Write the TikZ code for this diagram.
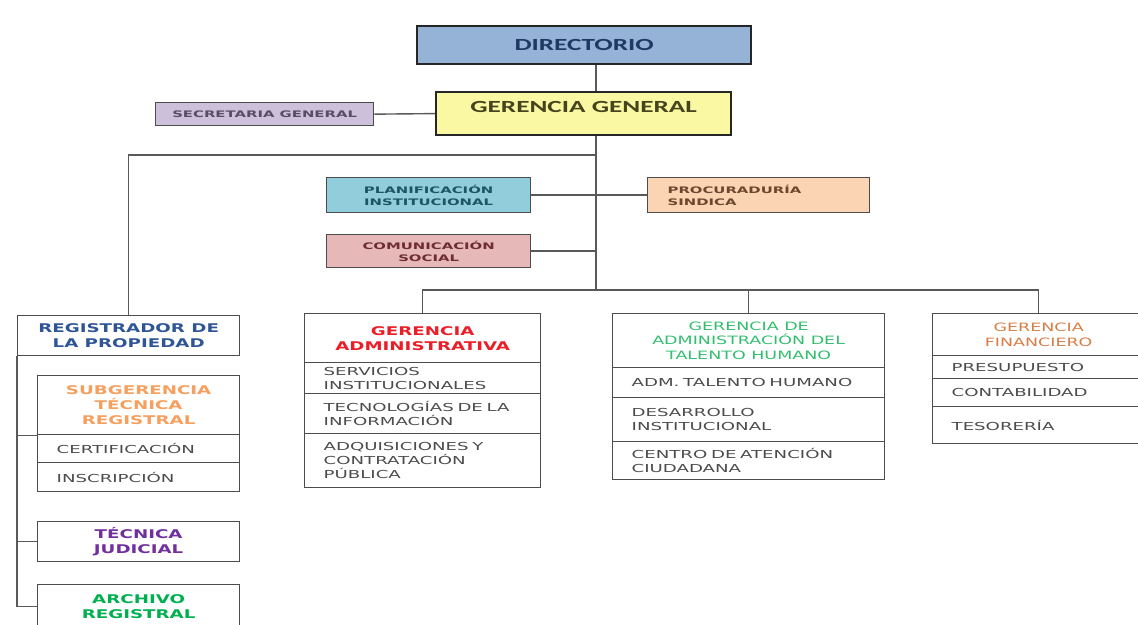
\documentclass[tikz,border=0pt]{standalone}
\usepackage{fontspec}
\setmainfont{Carlito}
\newfontfamily\capfont[FakeStretch=1.6]{Carlito}
\newfontfamily\headfont[FakeStretch=1.52]{DejaVu Sans}
\newfontfamily\rowfont[FakeStretch=1.65]{DejaVu Sans}
\usetikzlibrary{positioning}

\definecolor{dirblue}{RGB}{149,179,215}
\definecolor{dirtext}{RGB}{31,56,100}
\definecolor{ggyellow}{RGB}{250,248,162}
\definecolor{ggtext}{RGB}{70,68,30}
\definecolor{seclav}{RGB}{204,192,218}
\definecolor{sectext}{RGB}{90,75,105}
\definecolor{planblue}{RGB}{146,205,220}
\definecolor{plantext}{RGB}{30,85,100}
\definecolor{procpeach}{RGB}{251,212,180}
\definecolor{proctext}{RGB}{110,70,45}
\definecolor{compink}{RGB}{230,185,184}
\definecolor{comtext}{RGB}{110,45,50}
\definecolor{regblue}{RGB}{47,85,151}
\definecolor{suborange}{RGB}{245,160,95}
\definecolor{judpurple}{RGB}{112,48,160}
\definecolor{arcgreen}{RGB}{0,176,80}
\definecolor{admred}{RGB}{235,30,40}
\definecolor{talgreen}{RGB}{50,190,110}
\definecolor{finorange}{RGB}{215,125,70}

\begin{document}
\begin{tikzpicture}
  [x=1pt,y=-1pt,
   every node/.style={draw=black!70,line width=1.3pt,inner sep=0pt,anchor=north west,align=center},
   topbox/.style={draw=black!85,line width=2.2pt,font=\capfont\bfseries\fontsize{17}{20}\selectfont},
   smallbox/.style={font=\rowfont\bfseries\fontsize{9}{12}\selectfont},
   headbox/.style={font=\headfont\bfseries\fontsize{12}{15}\selectfont},
   rowbox/.style={align=left,inner xsep=19pt,text=black!70,font=\rowfont\fontsize{11}{14}\selectfont},
   link/.style={draw=black!65,line width=1.4pt},
   hv/.style={to path={-| (\tikztotarget)}},
   vh/.style={to path={|- (\tikztotarget)}}]
  \clip (0,0) rectangle (1138,624);

  % top of the chart
  \node[topbox,fill=dirblue,text=dirtext,minimum width=334pt,minimum height=38pt] (dir) at (416,25) {DIRECTORIO};
  \node[topbox,fill=ggyellow,text=ggtext,minimum width=295pt,minimum height=43pt,text depth=14pt] (gg) at (435,91) {GERENCIA GENERAL};
  \node[smallbox,fill=seclav,text=sectext,minimum width=218pt,minimum height=23pt] (sec) at (155,102) {SECRETARIA GENERAL};

  % staff units
  \node[smallbox,fill=planblue,text=plantext,minimum width=204pt,minimum height=35pt] (plan) at (326,177) {PLANIFICACIÓN\\INSTITUCIONAL};
  \node[smallbox,fill=procpeach,text=proctext,align=left,inner xsep=20pt,text width=182pt,minimum height=35pt] (proc) at (647,177) {PROCURADURÍA\\SINDICA};
  \node[smallbox,fill=compink,text=comtext,minimum width=204pt,minimum height=33pt] (com) at (326,234) {COMUNICACIÓN\\SOCIAL};

  % registrador column
  \node[headbox,text=regblue,minimum width=222pt,minimum height=40pt] (reg) at (17,315) {REGISTRADOR DE\\LA PROPIEDAD};
  \node[headbox,text=suborange,minimum width=202pt,minimum height=59pt] (sub) at (37,375) {SUBGERENCIA\\TÉCNICA\\REGISTRAL};
  \node[rowbox,text width=164pt,minimum height=28pt] (sub1) at (37,434) {CERTIFICACIÓN};
  \node[rowbox,text width=164pt,minimum height=29pt] (sub2) at (37,462) {INSCRIPCIÓN};
  \node[headbox,text=judpurple,minimum width=202pt,minimum height=40pt] (jud) at (37,521) {TÉCNICA\\JUDICIAL};
  \node[headbox,text=arcgreen,minimum width=202pt,minimum height=44pt] (arc) at (37,584) {ARCHIVO\\REGISTRAL};

  % gerencia administrativa
  \node[headbox,text=admred,minimum width=236pt,minimum height=49pt] (adm) at (304,313) {GERENCIA\\ADMINISTRATIVA};
  \node[rowbox,text width=198pt,minimum height=31pt] (adm1) at (304,362) {SERVICIOS\\INSTITUCIONALES};
  \node[rowbox,text width=198pt,minimum height=40pt] (adm2) at (304,393) {TECNOLOGÍAS DE LA\\INFORMACIÓN};
  \node[rowbox,text width=198pt,minimum height=54pt] (adm3) at (304,433) {ADQUISICIONES Y\\CONTRATACIÓN\\PÚBLICA};

  % talento humano
  \node[headbox,text=talgreen,minimum width=272pt,minimum height=54pt,font=\headfont\fontsize{11.5}{14.5}\selectfont] (tal) at (612,313) {GERENCIA DE\\ADMINISTRACIÓN DEL\\TALENTO HUMANO};
  \node[rowbox,text width=234pt,minimum height=30pt] (tal1) at (612,367) {ADM. TALENTO HUMANO};
  \node[rowbox,text width=234pt,minimum height=44pt] (tal2) at (612,397) {DESARROLLO\\INSTITUCIONAL};
  \node[rowbox,text width=234pt,minimum height=38pt] (tal3) at (612,441) {CENTRO DE ATENCIÓN\\CIUDADANA};

  % financiero
  \node[headbox,text=finorange,minimum width=212pt,minimum height=42pt,font=\headfont\fontsize{11.5}{14.5}\selectfont] (fin) at (932,313) {GERENCIA\\FINANCIERO};
  \node[rowbox,text width=174pt,minimum height=23pt] (fin1) at (932,355) {PRESUPUESTO};
  \node[rowbox,text width=174pt,minimum height=28pt] (fin2) at (932,378) {CONTABILIDAD};
  \node[rowbox,text width=174pt,minimum height=37pt] (fin3) at (932,406) {TESORERÍA};

  \coordinate (top) at (596,155);
  \coordinate (bus) at (596,290);

  \path[link]
    (dir.south -| bus) edge (gg.north -| bus)
    (sec.east) edge (gg.west)
    (gg.south -| bus) edge (bus)
    (top) edge[hv] (reg.north)
    (plan.east) edge (proc.west)
    (com.east) edge (com.east -| bus)
    (bus) edge[hv] (adm.north)
    (bus) edge[hv] (tal.north)
    (bus) edge[hv] (fin.north)
    (reg.south west) edge[vh] (arc.west)
    (reg.south west |- sub.south west) edge (sub.south west)
    (reg.south west |- jud.west) edge (jud.west)
    ;

\end{tikzpicture}
\end{document}
